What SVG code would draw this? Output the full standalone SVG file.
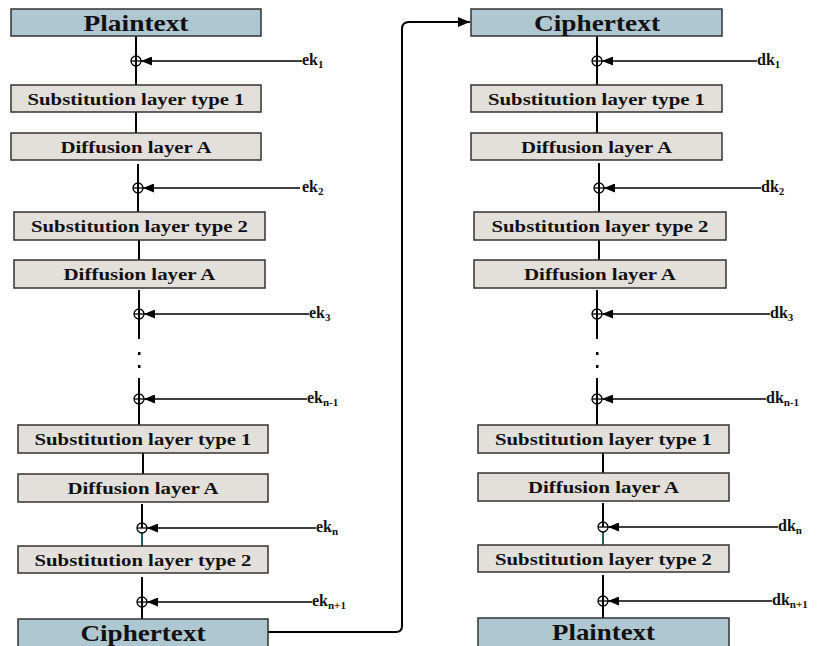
<svg xmlns="http://www.w3.org/2000/svg" width="817" height="646" viewBox="0 0 817 646">
<defs>
<style>
.blue{fill:#aec7d1;stroke:#333;stroke-width:1.5}
.gray{fill:#e3dfdb;stroke:#333;stroke-width:1.5}
.t{font-family:"Liberation Serif","Times New Roman",serif;font-weight:bold;fill:#111;text-anchor:middle}
.big{font-size:24px}
.mid{font-size:16.5px}
.key{font-family:"Liberation Serif","Times New Roman",serif;font-weight:bold;fill:#111;font-size:16px}
.sub{font-size:11px}
.v{stroke:#000;stroke-width:2;fill:none}
.teal{stroke:#1f5f5f;stroke-width:2;fill:none}
.k{stroke:#000;stroke-width:1.5;fill:none}
.x{fill:none;stroke:#000;stroke-width:1.3}
.dot{fill:#000}
</style>
<marker id="ah" markerUnits="userSpaceOnUse" markerWidth="11" markerHeight="9" refX="11" refY="4.5" orient="auto">
<path d="M0,0 L11,4.5 L0,9 Z" fill="#000"/>
</marker>
<marker id="ah2" markerUnits="userSpaceOnUse" markerWidth="12" markerHeight="10" refX="12" refY="5" orient="auto">
<path d="M0,0 L12,5 L0,10 Z" fill="#000"/>
</marker>
</defs>

<g id="connectors">
<path class="v" d="M136,36 V85 M136,112 V133 M138,164 V212 M139,240 V260 M139,290 V339 M139,378 V426 M143,453 V474 M142,504 V528 M142,577 V619"/>
<path class="teal" d="M142,533 V546"/>
<path class="v" d="M597,36 V85 M597,112 V133 M599,163 V212 M599,240 V260 M597,290 V339 M597,378 V426 M603,453 V473 M603,503 V527 M603,575 V618"/>
<path class="teal" d="M603,532 V545"/>
<path class="k" marker-end="url(#ah)" d="M302,61 H141"/>
<path class="k" marker-end="url(#ah)" d="M300,188 H143"/>
<path class="k" marker-end="url(#ah)" d="M309,314 H144"/>
<path class="k" marker-end="url(#ah)" d="M307,399 H144"/>
<path class="k" marker-end="url(#ah)" d="M316,528 H147"/>
<path class="k" marker-end="url(#ah)" d="M312,602 H147"/>
<path class="k" marker-end="url(#ah)" d="M757,61 H602"/>
<path class="k" marker-end="url(#ah)" d="M761,188 H604"/>
<path class="k" marker-end="url(#ah)" d="M770,314 H602"/>
<path class="k" marker-end="url(#ah)" d="M766,399 H602"/>
<path class="k" marker-end="url(#ah)" d="M778,527 H608"/>
<path class="k" marker-end="url(#ah)" d="M772,601 H608"/>
<path class="v" marker-end="url(#ah2)" d="M268,632 H396 Q402,632 402,626 V29 Q402,22 409,22 H470"/>
<rect class="dot" x="138" y="352" width="2.5" height="3"/>
<rect class="dot" x="138" y="365" width="2.5" height="3"/>
<rect class="dot" x="596" y="352" width="2.5" height="3"/>
<rect class="dot" x="596" y="365" width="2.5" height="3"/>
</g>

<g id="xors">
<g id="xl1"><circle class="x" cx="136" cy="61" r="5"/><path class="x" d="M131,61 H141"/></g>
<g id="xl2"><circle class="x" cx="138" cy="188" r="5"/><path class="x" d="M133,188 H143"/></g>
<g id="xl3"><circle class="x" cx="139" cy="314" r="5"/><path class="x" d="M134,314 H144"/></g>
<g id="xl4"><circle class="x" cx="139" cy="399" r="5"/><path class="x" d="M134,399 H144"/></g>
<g id="xl5"><circle class="x" cx="142" cy="528" r="5"/><path class="x" d="M137,528 H147"/></g>
<g id="xl6"><circle class="x" cx="142" cy="602" r="5"/><path class="x" d="M137,602 H147"/></g>
<g id="xr1"><circle class="x" cx="597" cy="61" r="5"/><path class="x" d="M592,61 H602"/></g>
<g id="xr2"><circle class="x" cx="599" cy="188" r="5"/><path class="x" d="M594,188 H604"/></g>
<g id="xr3"><circle class="x" cx="597" cy="314" r="5"/><path class="x" d="M592,314 H602"/></g>
<g id="xr4"><circle class="x" cx="597" cy="399" r="5"/><path class="x" d="M592,399 H602"/></g>
<g id="xr5"><circle class="x" cx="603" cy="527" r="5"/><path class="x" d="M598,527 H608"/></g>
<g id="xr6"><circle class="x" cx="603" cy="601" r="5"/><path class="x" d="M598,601 H608"/></g>
</g>

<g id="l-plain"><rect class="blue" x="11" y="9" width="250" height="27"/><text class="t big" x="136" y="31" textLength="105" lengthAdjust="spacingAndGlyphs">Plaintext</text></g>
<g id="l-sub1a"><rect class="gray" x="11" y="85" width="250" height="27"/><text class="t mid" x="136" y="104.5" textLength="217" lengthAdjust="spacingAndGlyphs">Substitution layer type 1</text></g>
<g id="l-diff1"><rect class="gray" x="11" y="133" width="250" height="27"/><text class="t mid" x="136" y="152.5" textLength="151" lengthAdjust="spacingAndGlyphs">Diffusion layer A</text></g>
<g id="l-sub2a"><rect class="gray" x="14" y="212" width="251" height="28"/><text class="t mid" x="139.5" y="231.5" textLength="217" lengthAdjust="spacingAndGlyphs">Substitution layer type 2</text></g>
<g id="l-diff2"><rect class="gray" x="14" y="260" width="251" height="28"/><text class="t mid" x="139.5" y="279.5" textLength="152" lengthAdjust="spacingAndGlyphs">Diffusion layer A</text></g>
<g id="l-sub1b"><rect class="gray" x="18" y="425" width="250" height="28"/><text class="t mid" x="143" y="444.5" textLength="217" lengthAdjust="spacingAndGlyphs">Substitution layer type 1</text></g>
<g id="l-diff3"><rect class="gray" x="18" y="474" width="250" height="28"/><text class="t mid" x="143" y="493.5" textLength="151" lengthAdjust="spacingAndGlyphs">Diffusion layer A</text></g>
<g id="l-sub2b"><rect class="gray" x="18" y="546" width="250" height="27"/><text class="t mid" x="143" y="565.5" textLength="217" lengthAdjust="spacingAndGlyphs">Substitution layer type 2</text></g>
<g id="l-cipher"><rect class="blue" x="18" y="619" width="250" height="32"/><text class="t big" x="143" y="641" textLength="125" lengthAdjust="spacingAndGlyphs">Ciphertext</text></g>

<g id="r-cipher"><rect class="blue" x="471" y="9" width="251" height="27"/><text class="t big" x="597" y="31" textLength="126" lengthAdjust="spacingAndGlyphs">Ciphertext</text></g>
<g id="r-sub1a"><rect class="gray" x="471" y="85" width="251" height="27"/><text class="t mid" x="596.5" y="104.5" textLength="217" lengthAdjust="spacingAndGlyphs">Substitution layer type 1</text></g>
<g id="r-diff1"><rect class="gray" x="471" y="133" width="251" height="27"/><text class="t mid" x="596.5" y="152.5" textLength="151" lengthAdjust="spacingAndGlyphs">Diffusion layer A</text></g>
<g id="r-sub2a"><rect class="gray" x="474" y="212" width="252" height="28"/><text class="t mid" x="600" y="231.5" textLength="217" lengthAdjust="spacingAndGlyphs">Substitution layer type 2</text></g>
<g id="r-diff2"><rect class="gray" x="474" y="260" width="252" height="28"/><text class="t mid" x="600" y="279.5" textLength="152" lengthAdjust="spacingAndGlyphs">Diffusion layer A</text></g>
<g id="r-sub1b"><rect class="gray" x="478" y="425" width="251" height="28"/><text class="t mid" x="603.5" y="444.5" textLength="217" lengthAdjust="spacingAndGlyphs">Substitution layer type 1</text></g>
<g id="r-diff3"><rect class="gray" x="478" y="473" width="251" height="28"/><text class="t mid" x="603.5" y="492.5" textLength="151" lengthAdjust="spacingAndGlyphs">Diffusion layer A</text></g>
<g id="r-sub2b"><rect class="gray" x="478" y="545" width="251" height="27"/><text class="t mid" x="603.5" y="564.5" textLength="217" lengthAdjust="spacingAndGlyphs">Substitution layer type 2</text></g>
<g id="r-plain"><rect class="blue" x="478" y="618" width="251" height="32"/><text class="t big" x="603.5" y="640" textLength="103" lengthAdjust="spacingAndGlyphs">Plaintext</text></g>

<g id="labels">
<text class="key" x="302" y="65">ek<tspan class="sub" dy="3">1</tspan></text>
<text class="key" x="302" y="192">ek<tspan class="sub" dy="3">2</tspan></text>
<text class="key" x="309" y="318">ek<tspan class="sub" dy="3">3</tspan></text>
<text class="key" x="307" y="403">ek<tspan class="sub" dy="3">n-1</tspan></text>
<text class="key" x="316" y="532">ek<tspan class="sub" dy="3">n</tspan></text>
<text class="key" x="312" y="606">ek<tspan class="sub" dy="3">n+1</tspan></text>
<text class="key" x="757" y="65">dk<tspan class="sub" dy="3">1</tspan></text>
<text class="key" x="761" y="192">dk<tspan class="sub" dy="3">2</tspan></text>
<text class="key" x="770" y="318">dk<tspan class="sub" dy="3">3</tspan></text>
<text class="key" x="766" y="403">dk<tspan class="sub" dy="3">n-1</tspan></text>
<text class="key" x="778" y="531">dk<tspan class="sub" dy="3">n</tspan></text>
<text class="key" x="772" y="605">dk<tspan class="sub" dy="3">n+1</tspan></text>
</g>
</svg>
